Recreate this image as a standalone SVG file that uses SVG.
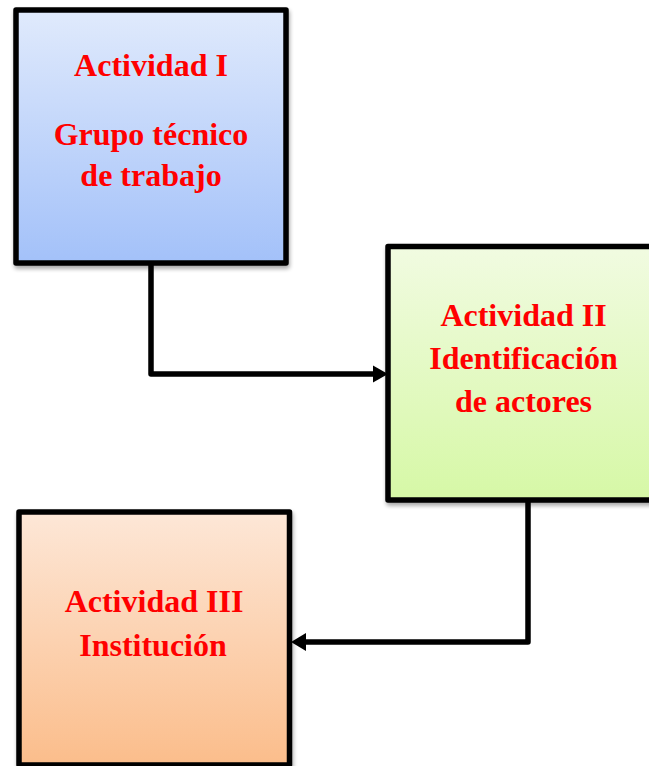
<svg xmlns="http://www.w3.org/2000/svg" width="649" height="766" viewBox="0 0 649 766">
  <defs>
    <linearGradient id="gBlue" x1="0" y1="0" x2="0" y2="1">
      <stop offset="0" stop-color="#e0eafc"/>
      <stop offset="1" stop-color="#a3c1f9"/>
    </linearGradient>
    <linearGradient id="gGreen" x1="0" y1="0" x2="0" y2="1">
      <stop offset="0" stop-color="#f1fbe1"/>
      <stop offset="1" stop-color="#d6f8a6"/>
    </linearGradient>
    <linearGradient id="gOrange" x1="0" y1="0" x2="0" y2="1">
      <stop offset="0" stop-color="#fde7d7"/>
      <stop offset="1" stop-color="#fbbd8b"/>
    </linearGradient>
    <filter id="shadow" x="-10%" y="-10%" width="120%" height="120%">
      <feGaussianBlur in="SourceAlpha" stdDeviation="2"/>
      <feOffset dx="1" dy="3" result="b"/>
      <feComponentTransfer><feFuncA type="linear" slope="0.35"/></feComponentTransfer>
      <feMerge><feMergeNode/><feMergeNode in="SourceGraphic"/></feMerge>
    </filter>
  </defs>
  <style>
    .box { stroke: #000; stroke-width: 5.5; stroke-linejoin: round; }
    .lbl { font-family: "Liberation Serif", "Times New Roman", serif; font-weight: bold; font-size: 32px; fill: #ff0000; text-anchor: middle; }
    .conn { fill: none; stroke: #000; stroke-width: 5.5; stroke-linejoin: round; }
    .head { fill: #000; }
  </style>

  <g id="connectors">
    <path class="conn" d="M151,263 L151,374 L373,374" />
    <path class="head" d="M373,365.5 L388,374 L373,382.5 Z"/>
    <path class="conn" d="M528,500 L528,642 L306,642" />
    <path class="head" d="M306,633 L291,642 L306,651 Z"/>
  </g>

  <g id="node1">
    <rect class="box" x="16" y="10" width="270" height="253" fill="url(#gBlue)" filter="url(#shadow)"/>
    <text class="lbl" x="151" y="76">Actividad I</text>
    <text class="lbl" x="151" y="145">Grupo técnico</text>
    <text class="lbl" x="151" y="186">de trabajo</text>
  </g>

  <g id="node2">
    <rect class="box" x="388" y="246.5" width="272" height="253.5" fill="url(#gGreen)" filter="url(#shadow)"/>
    <text class="lbl" x="523.5" y="326">Actividad II</text>
    <text class="lbl" x="523.5" y="369">Identificación</text>
    <text class="lbl" x="523.5" y="412">de actores</text>
  </g>

  <g id="node3">
    <rect class="box" x="19" y="512" width="270.5" height="253" fill="url(#gOrange)" filter="url(#shadow)"/>
    <text class="lbl" x="154" y="612">Actividad III</text>
    <text class="lbl" x="153" y="656">Institución</text>
  </g>
</svg>
